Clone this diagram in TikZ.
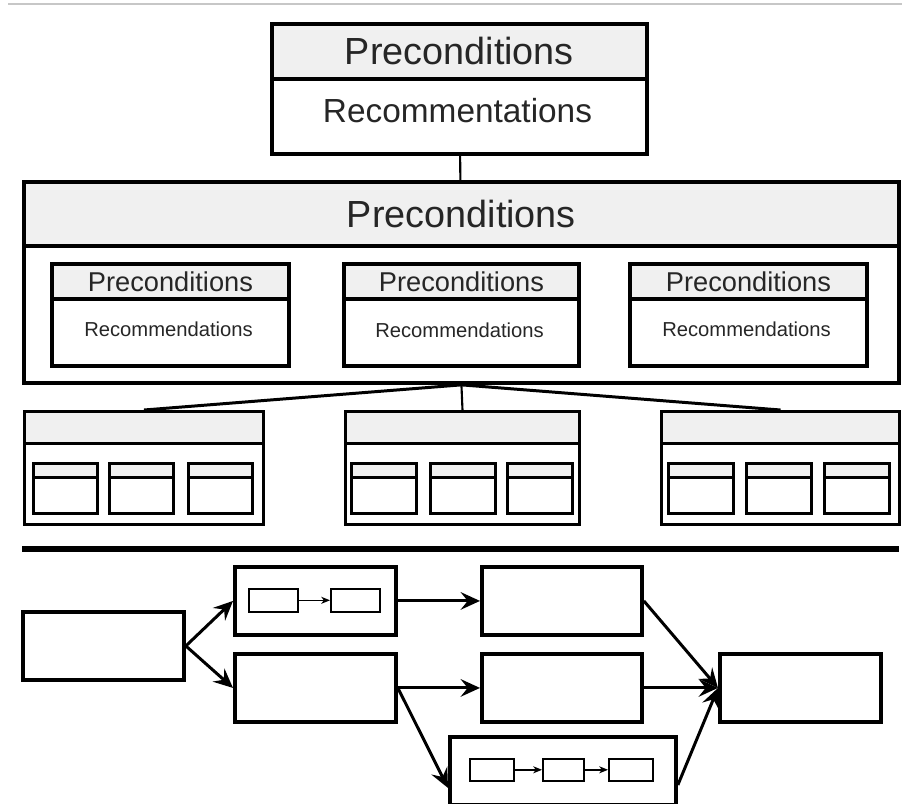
\documentclass[tikz,border=0pt]{standalone}
\usepackage{fontspec}
\setmainfont{Liberation Sans}
\usetikzlibrary{arrows.meta}

\begin{document}
\begin{tikzpicture}[x=0.02cm,y=-0.02cm]

% definiciones
\newcommand{\px}{0.02cm}
\newcommand{\letragrande}{\fontsize{21.5}{24}\selectfont}
\newcommand{\letramedia}{\fontsize{19}{22}\selectfont}
\newcommand{\letrachica}{\fontsize{15.5}{18}\selectfont}
\newcommand{\letramini}{\fontsize{11.5}{14}\selectfont}

% estilos de linea y relleno
\tikzstyle{caja}     = [draw=black,line width=2.2pt,rectangle,inner sep=0pt,anchor=north west,text=black!85]
\tikzstyle{cabecera} = [caja,fill=black!6]
\tikzstyle{fina}     = [line width=1.7pt]
\tikzstyle{cajita}   = [caja,line width=0.9pt]
\tikzstyle{flecha}   = [line width=1.7pt,-{Stealth[length=11pt,width=10pt,inset=4pt]}]
\tikzstyle{flechita} = [line width=0.8pt,-{Stealth[length=5pt,width=4pt,inset=1.5pt]}]

% caja con cabecera
% #1: nombre
% #2: esquina superior izquierda
% #3: ancho, #4: alto, #5: alto de la cabecera
% #6: texto de la cabecera
% #7: estilo extra
\newcommand{\cajacab}[7]{
	\node [caja,#7,minimum width=#3*\px,minimum height=#4*\px] (#1) at #2 {};
	\node [cabecera,#7,minimum width=#3*\px,minimum height=#5*\px] (#1c) at #2 {#6};
}

\useasboundingbox (0,0) rectangle (902,804);
\draw [black!22,line width=0.9pt] (8,4) -- (902,4);

% nivel superior
\cajacab{sup}{(270,22)}{375}{130}{55}{\letragrande Preconditions}{}
\node [text=black!85] (supr) at (457.5,111) {\letramedia Recommentations};

\cajacab{med}{(22,180)}{875}{201}{64}{\letragrande Preconditions}{}
\cajacab{m1}{(50,262)}{237}{102}{35}{\letrachica Preconditions}{}
\cajacab{m2}{(342,262)}{235}{102}{35}{\letrachica Preconditions}{}
\cajacab{m3}{(628,262)}{237}{102}{35}{\letrachica Preconditions}{}
\node [text=black!85] (m1r) at (168.5,329) {\letramini Recommendations};
\node [text=black!85] (m2r) at (459.5,330) {\letramini Recommendations};
\node [text=black!85] (m3r) at (746.5,329) {\letramini Recommendations};

\draw [line width=1.2pt] (sup) -- (med);

% tercer nivel
\cajacab{r1}{(23,410)}{239}{113}{32}{}{fina}
\cajacab{r2}{(344,410)}{234}{113}{32}{}{fina}
\cajacab{r3}{(660,410)}{238}{113}{32}{}{fina}
\foreach \x in {32,108,187} {\cajacab{s1\x}{(\x,462)}{64}{50}{14}{}{fina}}
\foreach \x in {350,429,506} {\cajacab{s2\x}{(\x,462)}{65}{50}{14}{}{fina}}
\foreach \x in {667,745,823} {\cajacab{s3\x}{(\x,462)}{65}{50}{14}{}{fina}}

\draw [fina] (med.south) -- (r1.north);
\draw [line width=1.2pt] (med.south) -- (r2.north);
\draw [fina] (med.south) -- (r3.north);

% separador
\draw [line width=3.6pt] (22,549) -- (899,549);

% flujo
\node [caja,minimum width=161*\px,minimum height=68*\px] (fA) at (21,610) {};
\node [caja,minimum width=161*\px,minimum height=68*\px] (fB) at (233,565) {};
\node [caja,minimum width=161*\px,minimum height=68*\px] (fC) at (233,652) {};
\node [caja,minimum width=160*\px,minimum height=68*\px] (fD) at (480,565) {};
\node [caja,minimum width=160*\px,minimum height=68*\px] (fE) at (480,652) {};
\node [caja,minimum width=226*\px,minimum height=68*\px] (fF) at (448,735) {};
\node [caja,minimum width=161*\px,minimum height=68*\px] (fG) at (718,652) {};

\node [cajita,minimum width=49*\px,minimum height=23*\px] (fB1) at (248,588) {};
\node [cajita,minimum width=49*\px,minimum height=23*\px] (fB2) at (330,588) {};
\node [cajita,minimum width=44*\px,minimum height=22*\px] (fF1) at (469,758) {};
\node [cajita,minimum width=41*\px,minimum height=22*\px] (fF2) at (542,758) {};
\node [cajita,minimum width=44*\px,minimum height=22*\px] (fF3) at (608,758) {};
\draw [flechita] (fB1) -- (fB2);
\draw [flechita] (fF1) -- (fF2);
\draw [flechita] (fF2) -- (fF3);

\draw [flecha] (fA.east) -- (fB.west);
\draw [flecha] (fA.east) -- (fC.west);
\draw [flecha] (fB.east) -- (fD.west);
\draw [flecha] (fC.east) -- (fE.west);
\draw [flecha] (fC.east) -- ([yshift=-0.34cm]fF.west);
\draw [flecha] (fD.east) -- (fG.west);
\draw [flecha] (fE.east) -- (fG.west);
\draw [flecha] ([yshift=-0.28cm]fF.east) -- (fG.west);

\end{tikzpicture}
\end{document}
